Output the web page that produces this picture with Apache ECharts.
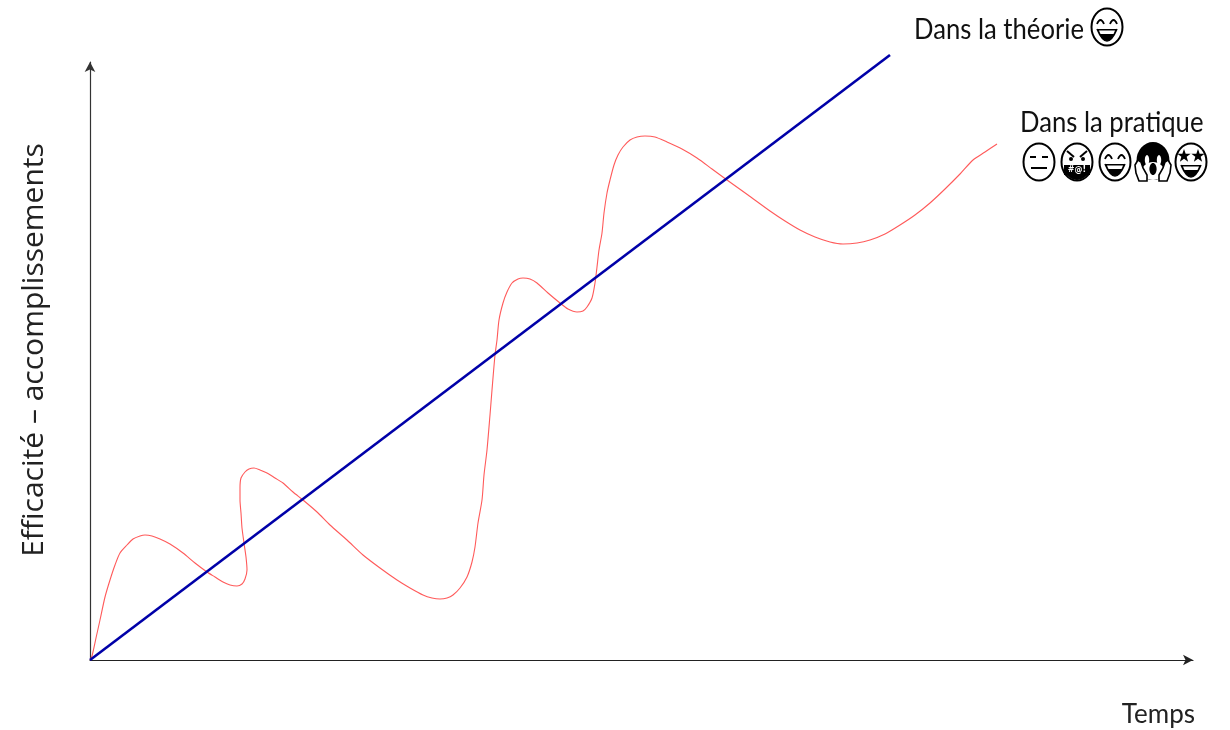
<!DOCTYPE html>
<html><head><meta charset="utf-8">
<style>html,body{margin:0;padding:0;background:#fff}#c{width:1230px;height:730px}</style>
<script src="https://cdn.jsdelivr.net/npm/echarts@6/dist/echarts.min.js"></script>
</head><body><div id="c"></div>
<script>
const xTitle = 'Temps';
const yTitle = 'Efficacité – accomplissements';
const theoryLabel = 'Dans la théorie';
const practiceLabel = 'Dans la pratique';
const theoryX = [0, 800];
const theoryY = [0, 605];
const practiceX = [0,2,6,10,15,20,25,30,37,43,50,55,62,70,80,93,105,117,125,133,140,147,152,155,157,156,154,152,151,150,150,151,155,159,164,170,177,185,193,203,213,227,240,257,273,290,307,320,333,342,350,357,363,370,377,382,385,388,392,394,397,400,402,405,407,409,413,417,422,428,433,440,447,458,470,478,487,493,497,502,505,507,509,512,514,517,520,524,528,533,540,547,555,565,577,592,607,622,637,658,680,695,710,725,740,753,767,780,795,810,825,840,855,870,883,895,907];
const practiceY = [0,4,22,40,63,80,95,107,115,121,124,125,124,121,116,107,97,88,83,78,75,74,76,81,90,103,117,132,147,160,172,182,188,191,192,190,187,182,177,168,160,148,135,120,105,92,80,72,65,62,61,62,65,72,83,98,113,137,160,185,210,245,270,305,320,340,357,368,377,381,382,381,377,367,357,351,348,349,353,362,377,393,410,427,447,467,480,495,505,513,520,523,524,523,518,511,502,491,480,465,449,439,430,423,418,416,417,420,426,435,445,457,471,486,500,508,516];
const FONT = 'Lato';
const chart = echarts.init(document.getElementById('c'), null, {renderer:'canvas'});
const axisLine = c => ({show:true, symbol:['none','arrow'], symbolSize:[8,10], lineStyle:{color:c,width:1.2}});

const K = '#000';
const stroke = {fill:'none', stroke:K, lineWidth:1.8};
const head = () => ({type:'ellipse', shape:{cx:0,cy:0,rx:15.5,ry:18.5}, style:{fill:'#fff',stroke:K,lineWidth:2}});
const seg = (x1,y1,x2,y2,w) => ({type:'line', shape:{x1,y1,x2,y2}, style:{stroke:K,lineWidth:w||2}});
const curve = (x1,y1,cx,cy,x2,y2) => ({type:'bezierCurve', shape:{x1,y1,x2,y2,cpx1:cx,cpy1:cy}, style:stroke});
const smile = (t) => [
  {type:'bezierCurve', shape:{x1:-10,y1:t,x2:10,y2:t,cpx1:0,cpy1:t+24}, style:{fill:K,stroke:K,lineWidth:1.5}},
  {type:'polygon', shape:{points:[[-8,t+1.5],[8,t+1.5],[6.5,t+5],[-6.5,t+5]]}, style:{fill:'#fff'}}
];
const archEyes = () => [curve(-10,-3,-6.5,-11,-3,-3), curve(3,-3,6.5,-11,10,-3)];
const starPts = (cx,cy,R,r) => { const p=[]; for(let i=0;i<10;i++){const a=-Math.PI/2+i*Math.PI/5,q=i%2?r:R;p.push([cx+q*Math.cos(a),cy+q*Math.sin(a)]);} return p; };
const faces = {
  grin: () => [head(), ...archEyes(), ...smile(2)],
  neutral: () => [head(), seg(-9,-5,-3,-5), seg(3,-5,9,-5), seg(-8,6,8,6)],
  grawlix: () => [head(), seg(-10,-11,-3,-5), seg(10,-11,3,-5),
    {type:'circle', shape:{cx:-6,cy:-3,r:2}, style:{fill:K}}, {type:'circle', shape:{cx:6,cy:-3,r:2}, style:{fill:K}},
    {type:'rect', shape:{x:-13,y:3,width:26,height:10}, style:{fill:K}},
    {type:'bezierCurve', shape:{x1:-11,y1:12,x2:11,y2:12,cpx1:0,cpy1:23}, style:{fill:K}},
    {type:'text', style:{text:'#@!', x:0, y:8, align:'center', verticalAlign:'middle', font:'bold 8px "DejaVu Sans"', fill:'#fff'}}],
  scream: () => [
    {type:'ellipse', shape:{cx:0,cy:-1,rx:15.5,ry:18}, style:{fill:K,stroke:K,lineWidth:2}},
    {type:'ellipse', shape:{cx:0,cy:9,rx:11,ry:9}, style:{fill:'#fff'}},
    {type:'ellipse', shape:{cx:-6,cy:-2,rx:2.2,ry:5}, style:{fill:'#fff'}},
    {type:'ellipse', shape:{cx:6,cy:-2,rx:2.2,ry:5}, style:{fill:'#fff'}},
    {type:'ellipse', shape:{cx:0,cy:7,rx:3.6,ry:6}, style:{fill:K}},
    {type:'polygon', shape:{points:[[-18,3],[-15,-2],[-12,0],[-10,6],[-6,13],[-6,19],[-14,19],[-17,11]]}, style:{fill:'#fff',stroke:K,lineWidth:1.6}},
    {type:'polygon', shape:{points:[[18,3],[15,-2],[12,0],[10,6],[6,13],[6,19],[14,19],[17,11]]}, style:{fill:'#fff',stroke:K,lineWidth:1.6}}],
  star: () => [head(),
    {type:'polygon', shape:{points:starPts(-7,-6,7,2.8)}, style:{fill:K}},
    {type:'polygon', shape:{points:starPts(7,-6,7,2.8)}, style:{fill:K}},
    ...smile(3)]
};
const face = (x,y,k) => ({type:'group', x, y, children:faces[k]()});
const practiceFaces = ['neutral','grawlix','grin','scream','star'];
const facesX = [1039,1077,1115,1153,1191];

chart.setOption({
  animation:false,
  backgroundColor:'#fff',
  grid:{left:90, right:37, top:62, bottom:70, outerBoundsMode:'none'},
  xAxis:{type:'value', min:0, max:1103, axisLine:axisLine('#222'), axisTick:{show:false}, axisLabel:{show:false}, splitLine:{show:false},
    name:xTitle, nameLocation:'end', nameGap:2, nameTextStyle:{fontFamily:FONT,fontSize:26,color:'#222',padding:[42,0,0,0],verticalAlign:'top',align:'right'}},
  yAxis:{type:'value', min:0, max:598, axisLine:axisLine('#333'), axisTick:{show:false}, axisLabel:{show:false}, splitLine:{show:false},
    name:yTitle, nameLocation:'middle', nameGap:41, nameTextStyle:{fontFamily:'Open Sans',fontSize:30,color:'#222',padding:[0,0,0,22]}},
  series:[
    {name:'Dans la pratique', type:'line', clip:false, data:practiceX.map((x,i)=>[x,practiceY[i]]), smooth:0.25, showSymbol:false, lineStyle:{color:'#ff5a5a',width:1.1}},
    {name:'Dans la théorie', type:'line', clip:false, data:theoryX.map((x,i)=>[x,theoryY[i]]), showSymbol:false, lineStyle:{color:'#0000a8',width:2.6}}
  ],
  graphic:[
    {type:'text', x:914, y:15, scaleX:0.885, style:{text:theoryLabel, font:'29px '+FONT, fill:'#111'}},
    {type:'text', x:1020, y:108, scaleX:0.885, style:{text:practiceLabel, font:'29px '+FONT, fill:'#111'}},
    face(1107,27,'grin'),
    ...practiceFaces.map((k,i)=>face(facesX[i],162,k))
  ]
});
</script></body></html>
